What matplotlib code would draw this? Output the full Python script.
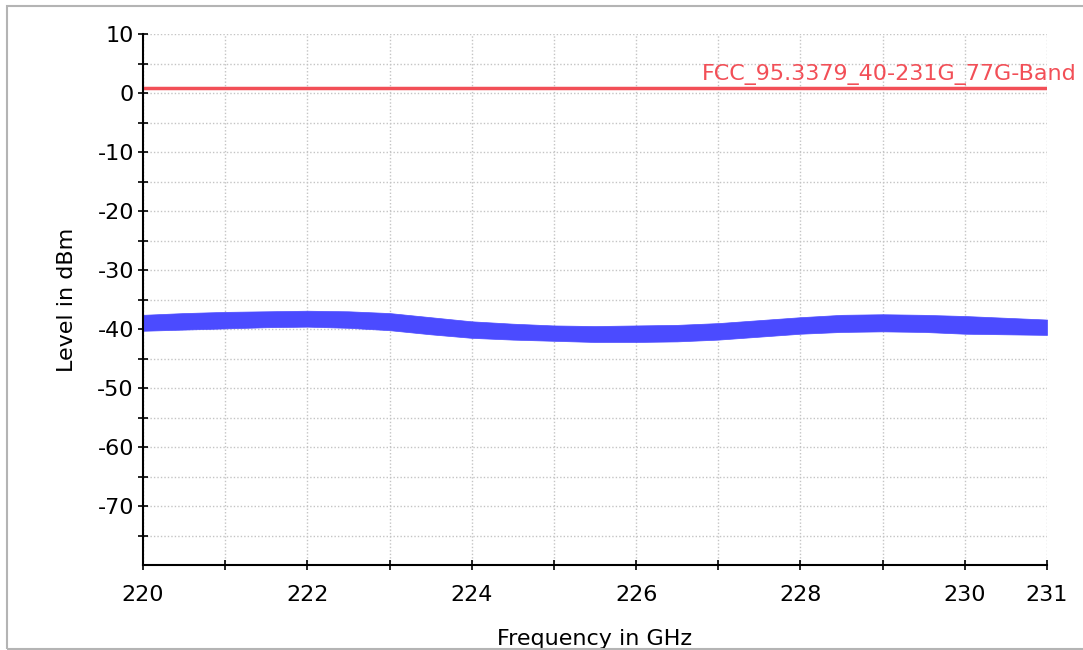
import matplotlib
matplotlib.use("Agg")
import matplotlib.pyplot as plt
from matplotlib.patches import Rectangle

# Limit line
limit_label = "FCC_95.3379_40-231G_77G-Band"
limit_level = 0.8

# Measured trace, read as an envelope (upper / lower edge of the noisy band)
freq_ghz = [220, 220.5, 221, 221.5, 222, 222.5, 223, 223.5, 224, 224.5, 225, 225.5,
            226, 226.5, 227, 227.5, 228, 228.5, 229, 229.5, 230, 230.5, 231]
trace_top = [-37.6, -37.3, -37.1, -37.0, -36.9, -37.0, -37.3, -38.0, -38.7, -39.1, -39.4, -39.5,
             -39.4, -39.3, -39.0, -38.5, -38.0, -37.6, -37.5, -37.6, -37.8, -38.1, -38.4]
trace_bottom = [-40.3, -40.1, -39.9, -39.7, -39.6, -39.8, -40.2, -40.9, -41.5, -41.8, -42.0, -42.2,
                -42.2, -42.1, -41.8, -41.3, -40.8, -40.5, -40.4, -40.5, -40.8, -40.9, -41.0]

x_ticks = [220, 221, 222, 223, 224, 225, 226, 227, 228, 229, 230, 231]
x_labels = ["220", "", "222", "", "224", "", "226", "", "228", "", "230", "231"]
y_ticks = [10, 0, -10, -20, -30, -40, -50, -60, -70]
y_minor = [5, -5, -15, -25, -35, -45, -55, -65, -75]

plt.rcParams["font.family"] = ["DejaVu Sans"]
plt.rcParams["axes.unicode_minus"] = False

fig = plt.figure(figsize=(10.83, 6.5), dpi=100)
ax = fig.add_axes([143 / 1083, 1 - 565 / 650, (1047 - 143) / 1083, (565 - 34) / 650])

blue = "#4b4bff"
red = "#f24f57"

ax.fill_between(freq_ghz, trace_bottom, trace_top, color=blue, lw=0.5, edgecolor=blue)

ax.axhline(limit_level, color=red, lw=2.5)
ax.text(1077 / 1083, 1 - 80 / 650, limit_label, transform=fig.transFigure,
        ha="right", va="baseline", color=red, fontsize=16)

ax.set_xlim(220, 231)
ax.set_ylim(-80, 10)
ax.set_xticks(x_ticks)
ax.set_xticklabels(x_labels)
ax.set_yticks(y_ticks)
ax.set_yticks(y_minor, minor=True)

for s in ["top", "right"]:
    ax.spines[s].set_visible(False)
for s in ["left", "bottom"]:
    ax.spines[s].set_linewidth(1.5)

ax.tick_params(axis="both", which="both", direction="inout", length=7, width=1.2,
               labelsize=16)
ax.tick_params(axis="x", pad=11)
ax.tick_params(axis="y", pad=3)

ax.grid(True, which="both", color="#c4c4c4", linestyle=(0, (1, 1.5)), lw=1)
ax.set_axisbelow(True)

ax.set_xlabel("Frequency in GHz", fontsize=16, labelpad=17)
ax.set_ylabel("Level in dBm", fontsize=16, labelpad=15)

# light frame round the whole chart
fig.patches.append(Rectangle((7 / 1083, 1 / 650), 1.1, 643 / 650, transform=fig.transFigure,
                             fill=False, edgecolor="#b4b4b4", lw=1.5))

fig.savefig("out.png", dpi=100)
